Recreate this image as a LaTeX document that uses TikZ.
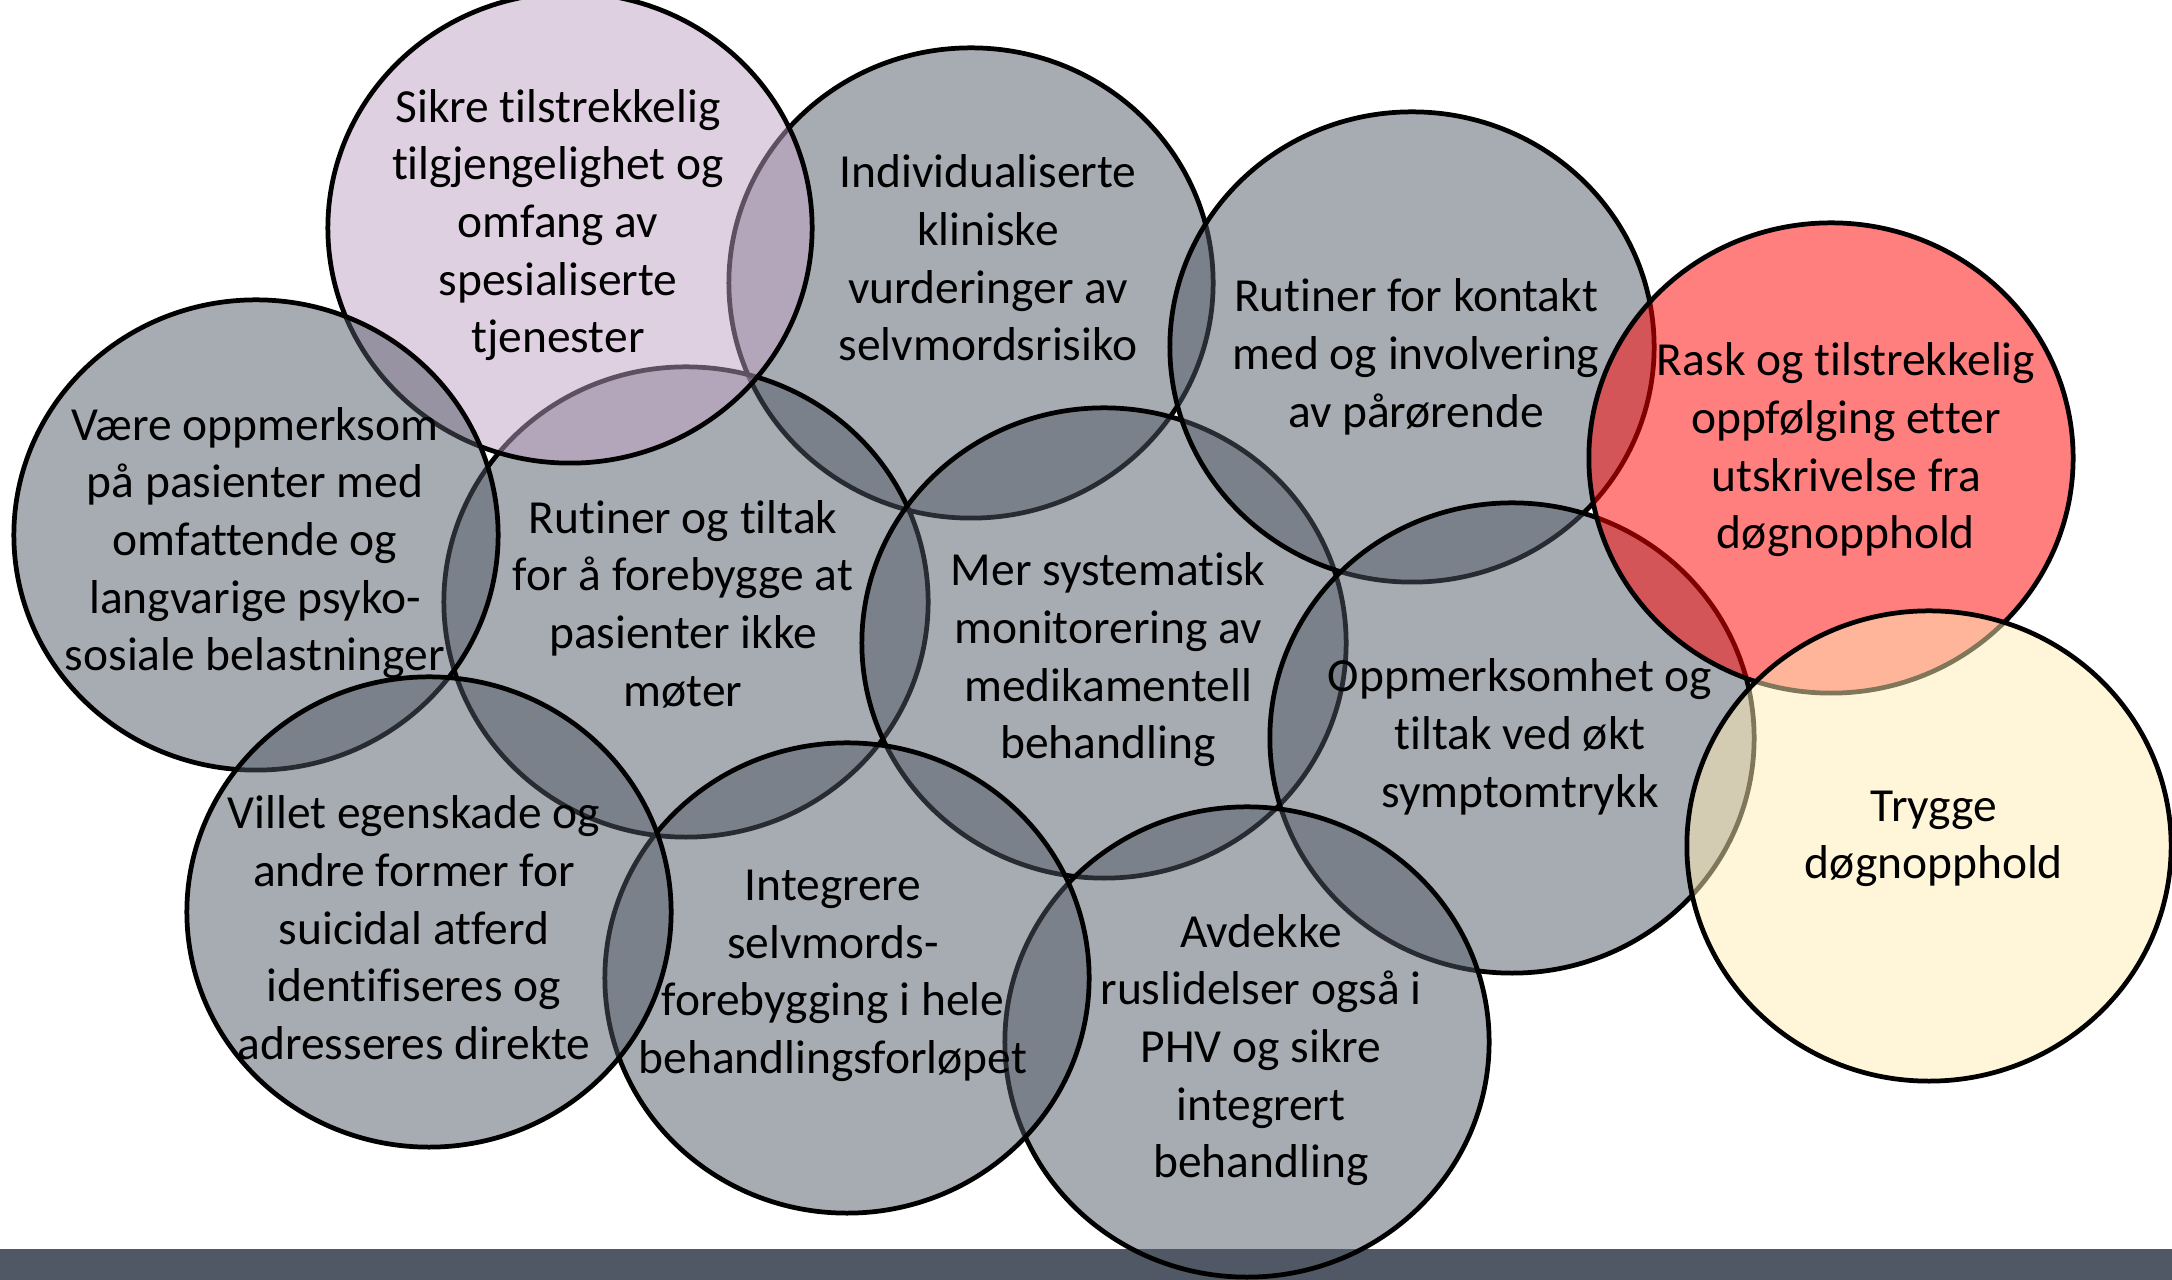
\documentclass[tikz,border=0pt]{standalone}
\usepackage{fontspec}
\setmainfont{Carlito}[Ligatures={NoCommon,NoContextual}]
\usepackage{tikz}
\usetikzlibrary{positioning}
\definecolor{mydark}{RGB}{80,88,101}
\definecolor{mypink}{RGB}{191,161,195}
\definecolor{myred}{RGB}{255,0,0}
\definecolor{myyellow}{RGB}{255,236,180}
\tikzset{
  bubble/.style={draw=black, line width=1.35pt, fill opacity=0.5,
    x radius=2.42cm, y radius=2.35cm},
  greybubble/.style={bubble, fill=mydark},
  pinkbubble/.style={bubble, fill=mypink},
  redbubble/.style={bubble, fill=myred},
  yellowbubble/.style={bubble, fill=myyellow},
  itemtext/.style={align=center, inner sep=0pt, text=black,
    font=\fontsize{13.5pt}{16.4pt}\selectfont}
}

\begin{document}
\begin{tikzpicture}[x=0.01cm, y=-0.01cm]
  \useasboundingbox (0,0) rectangle (2172,1280);

  % Bottom bar
  \fill[mydark] (0,1249) rectangle (2172,1280);

  % Circles, back to front
  \draw[greybubble] (971,283) ellipse [];    % individualiserte
  \draw[greybubble] (686,602) ellipse [];    % rutiner og tiltak
  \draw[greybubble] (1104,643) ellipse [];   % monitorering
  \draw[greybubble] (1412,347) ellipse [];   % kontakt
  \draw[greybubble] (1512,738) ellipse [];   % symptomtrykk
  \draw[redbubble] (1831,458) ellipse [];    % rask oppfolging
  \draw[yellowbubble] (1929,846) ellipse []; % trygge
  \draw[greybubble] (1247,1042) ellipse [];  % avdekke
  \draw[greybubble] (847,978) ellipse [];    % integrere
  \draw[pinkbubble] (570,228) ellipse [];    % sikre
  \draw[greybubble] (256,535) ellipse [];    % vaere oppmerksom
  \draw[greybubble] (429,912) ellipse [];    % villet egenskade

  % Texts
  \node[itemtext] (sikre) at (558,225) {Sikre tilstrekkelig\\tilgjengelighet og\\omfang av\\spesialiserte\\tjenester};
  \node[itemtext] (individ) at (988,258) {Individualiserte\\kliniske\\vurderinger av\\selvmordsrisiko};
  \node[itemtext] (kontakt) at (1416,357) {Rutiner for kontakt\\med og involvering\\av pårørende};
  \node[itemtext] (rask) at (1846,450) {Rask og tilstrekkelig\\oppfølging etter\\utskrivelse fra\\døgnopphold};
  \node[itemtext] (vaere) at (255,543) {Være oppmerksom\\på pasienter med\\omfattende og\\langvarige psyko-\\sosiale belastninger};
  \node[itemtext] (rutiner) at (683,604) {Rutiner og tiltak\\for å forebygge at\\pasienter ikke\\møter};
  \node[itemtext] (monitor) at (1108,660) {Mer systematisk\\monitorering av\\medikamentell\\behandling};
  \node[itemtext] (symptom) at (1520,737) {Oppmerksomhet og\\tiltak ved økt\\symptomtrykk};
  \node[itemtext] (trygge) at (1934,839) {Trygge\\døgnopphold};
  \node[itemtext] (villet) at (414,928) {Villet egenskade og\\andre former for\\suicidal atferd\\identifiseres og\\adresseres direkte};
  \node[itemtext] (integrere) at (833,976) {Integrere\\selvmords-\\forebygging i hele\\behandlingsforløpet};
  \node[itemtext] (avdekke) at (1261,1050) {Avdekke\\ruslidelser også i\\PHV og sikre\\integrert\\behandling};
\end{tikzpicture}
\end{document}
